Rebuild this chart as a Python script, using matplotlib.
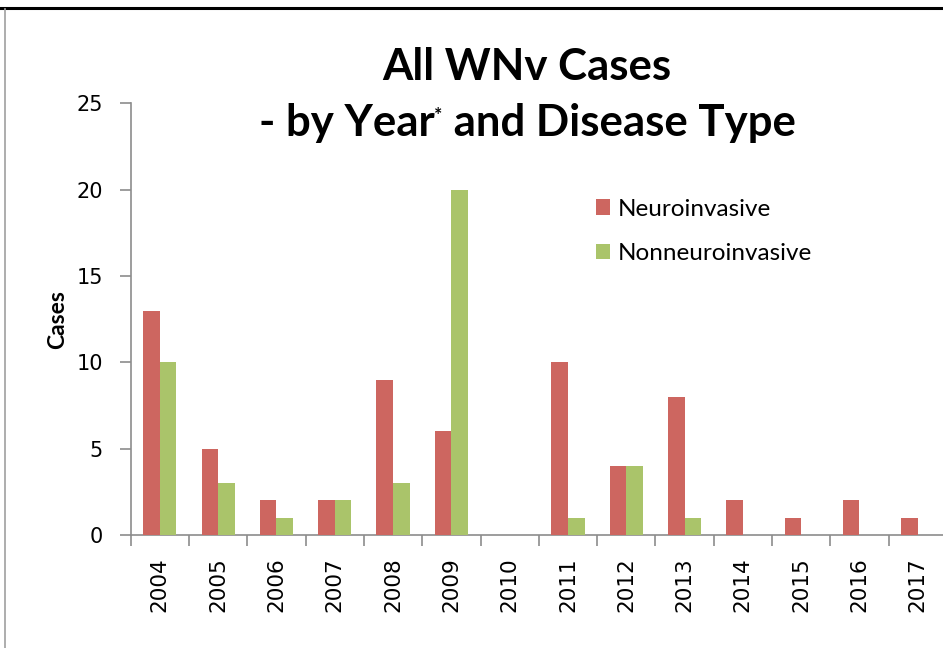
import matplotlib
matplotlib.use("Agg")
import matplotlib.pyplot as plt
from matplotlib.lines import Line2D
import numpy as np

years = ["2004", "2005", "2006", "2007", "2008", "2009", "2010",
         "2011", "2012", "2013", "2014", "2015", "2016", "2017"]
neuro = [13, 5, 2, 2, 9, 6, 0, 10, 4, 8, 2, 1, 2, 1]
nonneuro = [10, 3, 1, 2, 3, 20, 0, 1, 4, 1, 0, 0, 0, 0]

RED = "#CD6660"
GREEN = "#AAC46A"
GRID = "#8C8C8C"

W, H = 943, 648
fig = plt.figure(figsize=(W / 100, H / 100), dpi=100)

# axes placed in pixel terms (right edge runs slightly off the image)
left, right, bottom, top = 130.7, 946.9, 535, 103.3
ax = fig.add_axes([left / W, 1 - bottom / H, (right - left) / W, (bottom - top) / H])

x = np.arange(len(years))
bw = 0.285
ax.bar(x - bw / 2, neuro, bw, color=RED, label="Neuroinvasive", zorder=3)
ax.bar(x + bw / 2, nonneuro, bw, color=GREEN, label="Nonneuroinvasive", zorder=3)

ax.set_xlim(-0.5, len(years) - 0.5)
ax.set_ylim(0, 25)
ax.set_yticks([0, 5, 10, 15, 20, 25])
ax.set_xticks(x)
ax.set_xticklabels(years, rotation=90, fontsize=15.5, family="DejaVu Sans")
ax.set_xticks(np.arange(len(years) + 1) - 0.5, minor=True)
ax.tick_params(axis="x", which="major", length=0, pad=16)
ax.tick_params(axis="x", which="minor", length=8, width=1.2, color=GRID)
ax.tick_params(axis="y", length=8, width=1.2, color=GRID, labelsize=15, pad=12)
for lab in ax.get_yticklabels():
    lab.set_family("DejaVu Sans")

for s in ["top", "right"]:
    ax.spines[s].set_visible(False)
for s in ["left", "bottom"]:
    ax.spines[s].set_color(GRID)
    ax.spines[s].set_linewidth(1.2)

ax.set_ylabel("Cases", fontsize=16.5, fontweight="bold", family="Lato", labelpad=6)

leg = ax.legend(loc="upper left", bbox_to_anchor=((586 - left) / (right - left), (bottom - 189) / (bottom - top)),
                frameon=False, prop={"family": "Lato", "size": 17.5},
                handlelength=0.6, handleheight=0.6, handletextpad=0.3,
                labelspacing=0.95, borderaxespad=0)

# title, second line built in pieces so the asterisk can sit small and raised
tfont = dict(family="Lato", fontweight="bold", fontsize=31.5, color="black")
fig.text(527 / W, 1 - 67 / H, "All WNv Cases", ha="center", va="center", **tfont)
fig.canvas.draw()
r = fig.canvas.get_renderer()
y2 = 1 - 123 / H
parts = [("- by Year", tfont, 0), ("*", dict(tfont, fontsize=14), 0.012), (" and Disease Type", tfont, 0)]
widths = []
for s, f, dy in parts:
    t = fig.text(0, 0, s, **f)
    widths.append(t.get_window_extent(r).width / W)
    t.remove()
xs = 527 / W - sum(widths) / 2
for (s, f, dy), w in zip(parts, widths):
    fig.text(xs, y2 + dy, s, ha="left", va="center", **f)
    xs += w

# outer chart frame
fig.add_artist(Line2D([0, 1], [1 - 8 / H, 1 - 8 / H], color="black", lw=2.2, transform=fig.transFigure))
fig.add_artist(Line2D([5 / W, 5 / W], [0, 1 - 9 / H], color="#A0A0A0", lw=1.2, transform=fig.transFigure))

fig.savefig("out.png", dpi=100)
